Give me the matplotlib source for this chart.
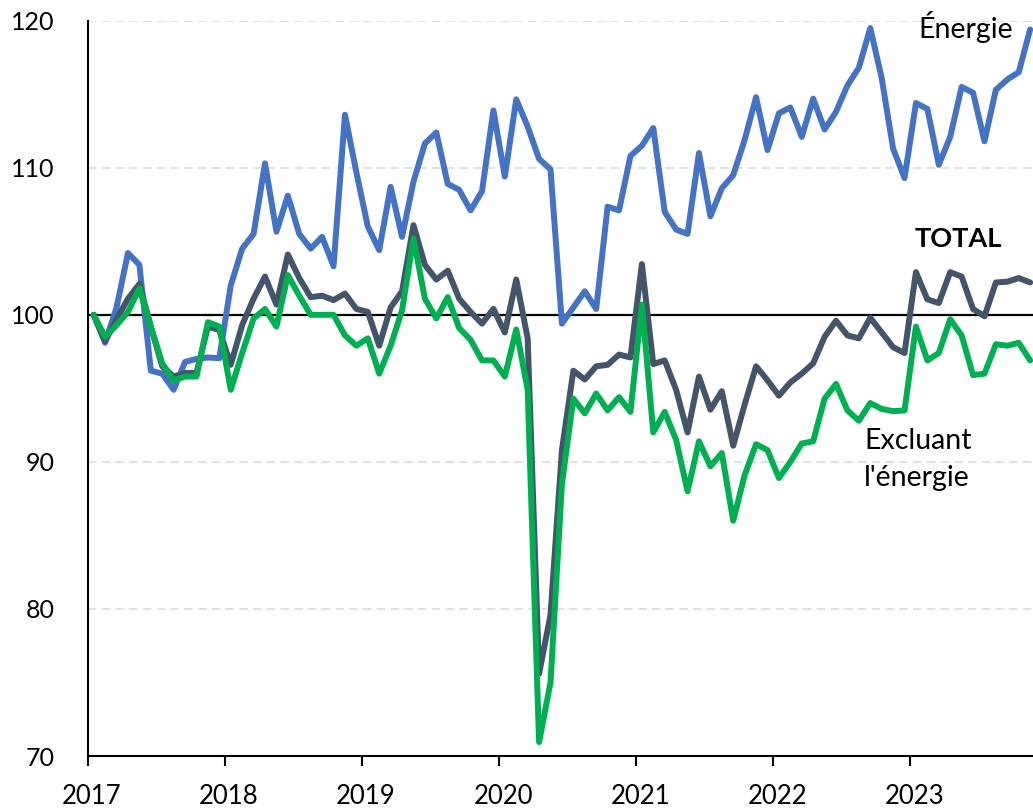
import numpy as np
import matplotlib
matplotlib.use("Agg")
import matplotlib.pyplot as plt
import matplotlib.transforms as mtransforms

# monthly index values, Jan 2017 .. Nov 2023
YEARS = ["2017", "2018", "2019", "2020", "2021", "2022", "2023"]
Y_TICKS = [70, 80, 90, 100, 110, 120]

ENERGIE = [100.0, 98.1, 100.5, 104.2, 103.4, 96.2, 96.0, 94.9, 96.8, 97.0, 97.1, 97.05,
           102.0, 104.5, 105.5, 110.3, 105.65, 108.1, 105.5, 104.5, 105.3, 103.3, 113.6, 109.7,
           106.0, 104.4, 108.7, 105.3, 109.05, 111.65, 112.4, 108.9, 108.5, 107.1, 108.4, 113.9,
           109.4, 114.65, 112.8, 110.6, 109.9, 99.4, 100.5, 101.6, 100.4, 107.35, 107.1, 110.8,
           111.5, 112.7, 107.0, 105.8, 105.5, 111.0, 106.7, 108.6, 109.5, 111.9, 114.8, 111.2,
           113.7, 114.1, 112.1, 114.7, 112.6, 113.8, 115.6, 116.8, 119.5, 116.1, 111.3, 109.3,
           114.4, 114.0, 110.2, 112.1, 115.5, 115.1, 111.8, 115.3, 116.0, 116.5, 119.4]

TOTAL = [100.0, 98.2, 99.7, 101.1, 102.1, 99.2, 96.5, 95.8, 96.05, 96.05, 99.2, 98.96,
         96.6, 99.3, 101.1, 102.6, 100.7, 104.1, 102.5, 101.2, 101.3, 101.0, 101.45, 100.4,
         100.2, 97.9, 100.5, 101.6, 106.1, 103.4, 102.4, 103.0, 101.1, 100.2, 99.4, 100.4,
         98.8, 102.4, 98.4, 75.6, 79.6, 90.8, 96.2, 95.6, 96.5, 96.6, 97.3, 97.1,
         103.45, 96.65, 96.9, 94.9, 92.0, 95.8, 93.55, 94.8, 91.1, 93.9, 96.5, 95.55,
         94.5, 95.4, 96.0, 96.7, 98.5, 99.6, 98.6, 98.4, 99.8, 98.8, 97.8, 97.4,
         102.9, 101.05, 100.8, 102.9, 102.6, 100.4, 99.9, 102.2, 102.25, 102.5, 102.2]

EXCL_ENERGIE = [100.0, 98.5, 99.3, 100.2, 101.8, 99.2, 96.7, 95.55, 95.8, 95.8, 99.5, 99.2,
                94.9, 97.4, 99.75, 100.4, 99.2, 102.7, 101.3, 100.0, 100.0, 100.0, 98.6, 97.9,
                98.4, 96.0, 97.9, 100.3, 105.2, 101.1, 99.75, 101.2, 99.1, 98.3, 96.9, 96.9,
                95.8, 99.0, 94.9, 70.95, 75.0, 88.5, 94.3, 93.3, 94.65, 93.5, 94.4, 93.4,
                100.7, 92.0, 93.4, 91.5, 88.0, 91.4, 89.7, 90.6, 86.0, 89.1, 91.2, 90.8,
                88.9, 90.0, 91.25, 91.4, 94.3, 95.3, 93.5, 92.8, 94.0, 93.6, 93.45, 93.5,
                99.2, 96.9, 97.4, 99.7, 98.6, 95.9, 96.0, 98.0, 97.9, 98.1, 96.9]

plt.rcParams["font.family"] = ["Lato", "DejaVu Sans"]

W, H = 1033, 810
fig = plt.figure(figsize=(W / 100, H / 100), dpi=100)
ax = fig.add_axes([88 / W, 1 - 756 / H, 1 - 88 / W, (756 - 20.7) / H])

months = np.arange(len(TOTAL)) + 0.5

for v in (80, 90, 110, 120):
    ax.axhline(v, color="#D9D9D9", lw=1.1, dashes=(5.5, 3.5), zorder=1)
ax.axhline(100, color="black", lw=1.6, zorder=2)

style = dict(lw=4.3, solid_joinstyle="round", solid_capstyle="round", zorder=3)
ax.plot(months, ENERGIE, color="#4472C4", **style)
ax.plot(months, TOTAL, color="#44546A", **style)
ax.plot(months, EXCL_ENERGIE, color="#00B050", **style)

ax.set_ylim(70, 120)
ax.set_yticks(Y_TICKS)
ax.set_xlim(0, 82.75)
ax.set_xticks(np.arange(len(YEARS)) * 12)
ax.set_xticklabels(YEARS)

for s in ("top", "right"):
    ax.spines[s].set_visible(False)
for s in ("left", "bottom"):
    ax.spines[s].set_linewidth(1.5)
    ax.spines[s].set_color("black")

ax.tick_params(axis="y", length=0, pad=24, labelsize=18)
ax.tick_params(axis="x", length=7.5, width=1.5, direction="out", pad=13, labelsize=18.5)

offset = mtransforms.ScaledTranslation(4 / 100, 0, fig.dpi_scale_trans)
for lab in ax.get_xticklabels():
    lab.set_transform(lab.get_transform() + offset)

ax.text(72.7, 118.8, "Énergie", fontsize=20.5, va="baseline", ha="left")
ax.text(72.4, 104.63, "TOTAL", fontsize=19.5, fontweight="bold", va="baseline", ha="left")
ax.text(67.95, 90.86, "Excluant", fontsize=20.5, va="baseline", ha="left")
ax.text(67.95, 88.35, "l'énergie", fontsize=20.5, va="baseline", ha="left")

fig.savefig("out.png", dpi=100)
